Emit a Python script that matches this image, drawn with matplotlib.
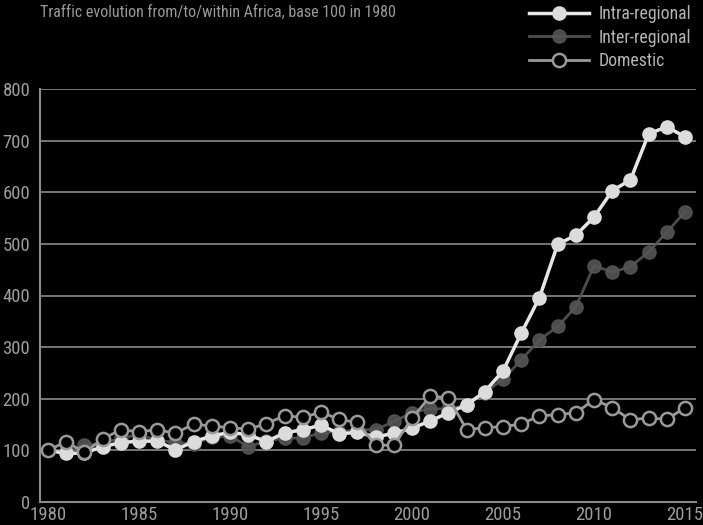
import numpy as np
import matplotlib.pyplot as plt

plt.rcParams['font.family'] = ['Roboto Condensed', 'DejaVu Sans']

years = list(range(1980, 2016))

intra = [100, 94, 95, 107, 115, 118, 118, 101, 117, 128,
         135, 130, 117, 134, 140, 149, 132, 135, 126, 133,
         143, 157, 173, 188, 214, 254, 327, 396, 499, 517,
         552, 603, 624, 713, 727, 707]
inter = [100, 98, 110, 113, 124, 130, 120, 115, 113, 125,
         128, 107, 118, 124, 124, 134, 136, 140, 140, 156,
         173, 181, 180, 188, 212, 238, 275, 314, 340, 378,
         458, 445, 456, 484, 523, 562]
domestic = [100, 117, 96, 122, 140, 136, 140, 133, 151, 147,
            144, 141, 152, 167, 164, 174, 160, 154, 110, 110,
            162, 205, 202, 140, 144, 146, 151, 167, 169, 173,
            198, 183, 159, 163, 160, 183]

fig = plt.figure(figsize=(7.03, 5.25), dpi=100, facecolor='black')
ax = fig.add_axes([40/703, 1-502/525, 656/703, 413/525], facecolor='black')

ax.plot(years, inter, color='#555555', lw=2, marker='o', ms=9.5,
        mfc='#555555', mec='#555555', alpha=0.9, label='Inter-regional', zorder=3)
ax.plot(years, intra, color='#e6e6e6', lw=2.5, marker='o', ms=9.5,
        mfc='#dcdcdc', mec='#dcdcdc', label='Intra-regional', zorder=4)
ax.plot(years, domestic, color='#999999', lw=2, marker='o', ms=9.5,
        mfc='black', mec='#999999', mew=1.8, label='Domestic', zorder=5)

ax.set_xlim(1979.56, 2015.6)
ax.set_ylim(0, 800)
ax.set_yticks(np.arange(0, 801, 100))
ax.set_xticks(np.arange(1980, 2016, 5))
ax.grid(axis='y', color='#8a8a8a', lw=1.2)
ax.set_axisbelow(True)
for s in ['top', 'right']:
    ax.spines[s].set_visible(False)
for s in ['left', 'bottom']:
    ax.spines[s].set_color('#8a8a8a')
    ax.spines[s].set_linewidth(1.5)
ax.tick_params(length=0, colors='#9c9c9c', labelsize=13.5)
ax.tick_params(axis='y', pad=7)
ax.tick_params(axis='x', pad=3)

fig.text(40/703, 1-12.5/525, 'Traffic evolution from/to/within Africa, base 100 in 1980',
         color='#999999', fontsize=11.5, va='center', ha='left')

h, l = ax.get_legend_handles_labels()
order = [1, 0, 2]
leg = fig.legend([h[i] for i in order], [l[i] for i in order],
                 loc='upper left', bbox_to_anchor=(520/703, 1+4/525), frameon=False,
                 borderpad=0, fontsize=12.7, handlelength=3.4, labelspacing=0.33,
                 handletextpad=0.55)
for t in leg.get_texts():
    t.set_color('#b4b4b4')

fig.savefig('out.png', dpi=100, facecolor='black')
